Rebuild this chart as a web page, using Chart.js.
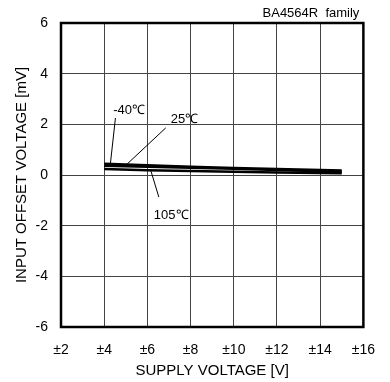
<!DOCTYPE html>
<html>
<head>
<meta charset="utf-8">
<script src="https://cdn.jsdelivr.net/npm/chart.js@4/dist/chart.umd.min.js"></script>
<style>
html, body { margin: 0; padding: 0; background: #fff; }
#wrap { position: relative; width: 390px; height: 382px; }
</style>
</head>
<body>
<div id="wrap"><canvas id="chart"></canvas></div>
<script>
// supply voltage (±V) and input offset voltage (mV) per temperature
var supplyV = [4, 6, 8, 10, 12, 14, 15];
var offsetM40 = [0.44, 0.38, 0.33, 0.28, 0.24, 0.20, 0.18];
var offset25 = [0.37, 0.33, 0.29, 0.25, 0.20, 0.15, 0.13];
var offset105 = [0.24, 0.19, 0.16, 0.13, 0.10, 0.08, 0.07];
var xTicks = [2, 4, 6, 8, 10, 12, 14, 16];
var yTicks = [-6, -4, -2, 0, 2, 4, 6];

// labels with leader lines, in data units
var tempLabels = [
	{ text: "-40℃", tx: 4.42, ty: 2.53, x1: 4.52, y1: 2.25, x2: 4.29, y2: 0.47 },
	{ text: "25℃", tx: 7.08, ty: 2.21, x1: 6.85, y1: 1.86, x2: 5.02, y2: 0.40 },
	{ text: "105℃", tx: 6.30, ty: -1.58, x1: 6.16, y1: 0.17, x2: 6.53, y2: -0.87 }
];

var FONT = "'Liberation Sans', Arial, sans-serif";

function pts(ys) {
	var out = [];
	for (var i = 0; i < supplyV.length; i++) out.push({ x: supplyV[i], y: ys[i] });
	return out;
}

var extras = {
	id: "extras",
	afterDraw: function(chart) {
		var ctx = chart.ctx;
		var a = chart.chartArea;
		var xs = chart.scales.x, ys = chart.scales.y;
		ctx.save();
		// frame
		ctx.strokeStyle = "#000";
		ctx.lineWidth = 2.5;
		ctx.strokeRect(a.left, a.top, a.right - a.left, a.bottom - a.top);
		// leaders + labels
		ctx.lineWidth = 1;
		ctx.font = "13px " + FONT;
		ctx.fillStyle = "#000";
		ctx.textBaseline = "middle";
		for (var i = 0; i < tempLabels.length; i++) {
			var l = tempLabels[i];
			ctx.beginPath();
			ctx.moveTo(xs.getPixelForValue(l.x1), ys.getPixelForValue(l.y1));
			ctx.lineTo(xs.getPixelForValue(l.x2), ys.getPixelForValue(l.y2));
			ctx.stroke();
			ctx.fillText(l.text, xs.getPixelForValue(l.tx), ys.getPixelForValue(l.ty));
		}
		// family note
		ctx.font = "13px " + FONT;
		ctx.textAlign = "right";
		ctx.textBaseline = "middle";
		ctx.fillText("BA4564R  family", a.right - 4, 13);
		ctx.restore();
	}
};

var lineStyle = { borderColor: "#000", borderWidth: 2.5, pointRadius: 0, fill: false, tension: 0 };

var ctx = document.getElementById("chart").getContext("2d");
var chart = new Chart(ctx, {
	type: "line",
	data: {
		datasets: [
			Object.assign({ label: "-40", data: pts(offsetM40) }, lineStyle),
			Object.assign({ label: "25", data: pts(offset25) }, lineStyle),
			Object.assign({ label: "105", data: pts(offset105) }, lineStyle)
		]
	},
	options: {
		responsive: true,
		maintainAspectRatio: false,
		animation: false,
		layout: { padding: { top: 23, right: 23, left: 0, bottom: 0 } },
		plugins: { legend: { display: false }, tooltip: { enabled: false } },
		scales: {
			x: {
				type: "linear",
				min: 2, max: 16,
				afterBuildTicks: function(s) { s.ticks = xTicks.map(function(v) { return { value: v }; }); },
				afterFit: function(s) { s.height = 55; },
				grid: { color: "#444", lineWidth: 1, drawTicks: false },
				border: { display: false },
				ticks: {
					color: "#000", padding: 15,
					font: { family: FONT, size: 14 },
					callback: function(v) { return "±" + v; }
				},
				title: { display: true, text: "SUPPLY VOLTAGE [V]", color: "#000", font: { family: FONT, size: 15 }, padding: { top: 0, bottom: 2 } }
			},
			y: {
				min: -6, max: 6,
				afterBuildTicks: function(s) { s.ticks = yTicks.map(function(v) { return { value: v }; }); },
				afterFit: function(s) { s.width = 61; },
				grid: { color: "#444", lineWidth: 1, drawTicks: false },
				border: { display: false },
				ticks: { color: "#000", padding: 13, font: { family: FONT, size: 14 } },
				title: { display: true, text: "INPUT OFFSET VOLTAGE [mV]", color: "#000", font: { family: FONT, size: 15 }, padding: { top: 13, bottom: 0 } }
			}
		}
	},
	plugins: [extras]
});
</script>
</body>
</html>
